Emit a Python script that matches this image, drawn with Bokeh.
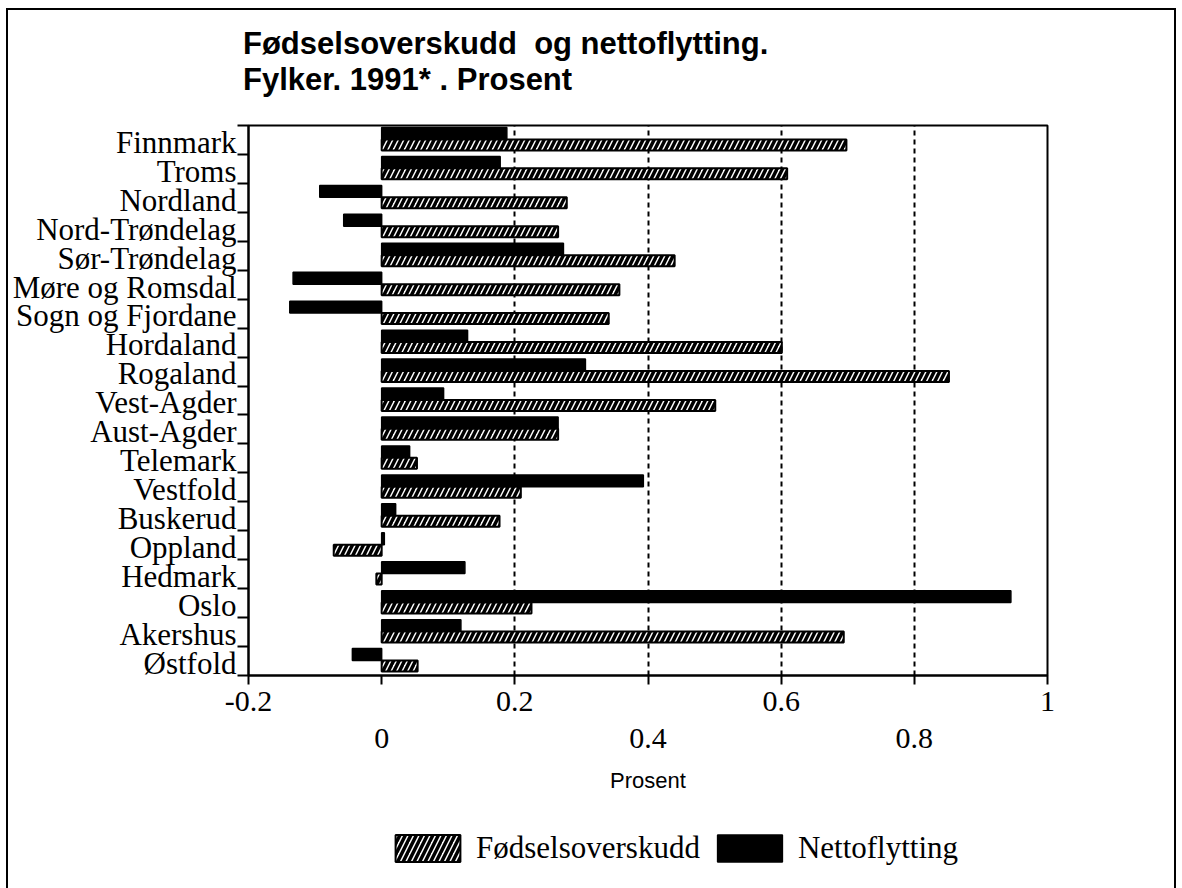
import numpy as np
from bokeh.plotting import figure
from bokeh.layouts import column
from bokeh.models import (Range1d, FixedTicker, LinearAxis, Legend, LegendItem, Div,
                          ColumnDataSource)
from bokeh.embed import file_html
from bokeh.resources import INLINE

# ---- data (bottom to top) ----
counties = ["Østfold", "Akershus", "Oslo", "Hedmark", "Oppland", "Buskerud", "Vestfold",
            "Telemark", "Aust-Agder", "Vest-Agder", "Rogaland", "Hordaland",
            "Sogn og Fjordane", "Møre og Romsdal", "Sør-Trøndelag", "Nord-Trøndelag",
            "Nordland", "Troms", "Finnmark"]
fodselsoverskudd = [0.054, 0.694, 0.225, -0.008, -0.072, 0.177, 0.209, 0.053, 0.265, 0.501,
                    0.852, 0.601, 0.341, 0.357, 0.440, 0.265, 0.278, 0.609, 0.698]
nettoflytting = [-0.044, 0.119, 0.945, 0.125, 0.004, 0.021, 0.393, 0.042, 0.265, 0.093,
                 0.306, 0.129, -0.138, -0.133, 0.273, -0.057, -0.093, 0.178, 0.188]
series_names = ["Fødselsoverskudd", "Nettoflytting"]
x_ticks = [-0.2, 0.0, 0.2, 0.4, 0.6, 0.8, 1.0]
x_labels_row1 = {-0.2: "-0.2", 0.0: "", 0.2: "0.2", 0.4: "", 0.6: "0.6", 0.8: "", 1.0: "1"}
x_ticks_row2 = [0.0, 0.4, 0.8]
x_labels_row2 = {0.0: "0", 0.4: "0.4", 0.8: "0.8"}
grid_ticks = [0.2, 0.4, 0.6, 0.8]
title_lines = ["Fødselsoverskudd&nbsp; og nettoflytting.", "Fylker. 1991* . Prosent"]
x_title = "Prosent"

SERIF = "Liberation Serif"
SANS = "Liberation Sans"

HATCH = dict(fill_color="white", line_color="black", line_width=2,
             hatch_pattern="/", hatch_color="black", hatch_weight=3.5, hatch_scale=11)
SOLID = dict(fill_color="black", line_color="black", line_width=1.5)

n = len(counties)
idx = np.arange(n)
src = ColumnDataSource(dict(
    y_f=idx + 0.33, y_n=idx + 0.725,
    f=fodselsoverskudd, nt=nettoflytting))

W = 1166
H_TITLE = 105
H_MAIN = 705
H_LEG = 76

# title block
title_div = Div(
    text=("<div style=\"margin:0; padding:16px 0 0 235px; font-family:'Liberation Sans';"
          " font-weight:bold; font-size:31px; line-height:36px; color:black;"
          " white-space:nowrap;\">" + "<br>".join(title_lines) + "</div>"),
    width=W, height=H_TITLE, margin=0)

p = figure(width=W, height=H_MAIN, output_backend="svg", toolbar_location=None,
           x_range=Range1d(-0.2, 1.0), y_range=Range1d(0, n),
           min_border_left=240, min_border_right=127, min_border_top=10,
           min_border_bottom=145)
p.background_fill_color = "white"
p.border_fill_color = "white"
p.outline_line_color = "black"
p.outline_line_width = 2

p.hbar(y="y_n", left=0, right="nt", height=0.41, source=src, **SOLID)
p.hbar(y="y_f", left=0, right="f", height=0.38, source=src, **HATCH)

# grid
p.ygrid.visible = False
p.xgrid.ticker = FixedTicker(ticks=grid_ticks)
p.xgrid.grid_line_color = "black"
p.xgrid.grid_line_width = 2
p.xgrid.grid_line_dash = "5 4"

# y axis
ya = p.yaxis[0]
ya.ticker = FixedTicker(ticks=list(idx + 0.42), minor_ticks=list(range(n + 1)))
ya.major_label_overrides = {float(i + 0.42): c for i, c in enumerate(counties)}
ya.major_tick_out = 0
ya.major_tick_in = 0
ya.major_tick_line_color = None
ya.minor_tick_out = 11
ya.minor_tick_in = 0
ya.minor_tick_line_width = 2
ya.minor_tick_line_color = "black"
ya.axis_line_width = 2
ya.axis_line_color = "black"
ya.major_label_standoff = 1
ya.major_label_text_font = SERIF
ya.major_label_text_font_size = "31px"
ya.major_label_text_color = "black"

# x axis row 1
xa = p.xaxis[0]
xa.ticker = FixedTicker(ticks=x_ticks)
xa.major_label_overrides = x_labels_row1
xa.major_tick_out = 9
xa.major_tick_in = 0
xa.major_tick_line_width = 2
xa.minor_tick_line_color = None
xa.axis_line_width = 2
xa.major_label_standoff = 7
xa.major_label_text_font = SERIF
xa.major_label_text_font_size = "30px"
xa.major_label_text_color = "black"

# x axis row 2 (staggered labels)
xa2 = LinearAxis(ticker=FixedTicker(ticks=x_ticks_row2), major_label_overrides=x_labels_row2,
                 axis_line_color=None, major_tick_line_color=None, minor_tick_line_color=None,
                 major_tick_out=0, major_tick_in=0,
                 major_label_standoff=15, major_label_text_font=SERIF,
                 major_label_text_font_size="30px", major_label_text_color="black",
                 axis_label=x_title, axis_label_text_font=SANS,
                 axis_label_text_font_size="22px", axis_label_text_font_style="normal",
                 axis_label_standoff=17, axis_label_text_color="black")
p.add_layout(xa2, "below")

# legend strip below the chart
pl = figure(width=W, height=H_LEG, output_backend="svg", toolbar_location=None,
            x_range=Range1d(0, 1), y_range=Range1d(0, 1), x_axis_type=None, y_axis_type=None,
            min_border=0)
pl.outline_line_color = None
pl.outline_line_alpha = 0
pl.grid.visible = False
lsrc = ColumnDataSource(dict(y=[-5.0], r=[1.0]))
lr_f = pl.hbar(y="y", left=0, right="r", height=0.5, source=lsrc, **HATCH)
lr_n = pl.hbar(y="y", left=0, right="r", height=0.5, source=lsrc, **SOLID)
legend = Legend(items=[LegendItem(label=series_names[0], renderers=[lr_f]),
                       LegendItem(label=series_names[1], renderers=[lr_n])],
                orientation="horizontal", location=(139, 30),
                glyph_width=81, glyph_height=34, label_height=27,
                label_text_font=SERIF, label_text_font_size="31px", label_text_color="black",
                label_standoff=8, spacing=9, padding=0, margin=0,
                border_line_color=None, background_fill_alpha=0)
pl.add_layout(legend, "center")

layout = column(title_div, p, pl, spacing=0)
layout.styles = {"border": "2px solid black", "margin": "8px 0px 0px 6px"}

open("out.html", "w").write(file_html(layout, INLINE))
